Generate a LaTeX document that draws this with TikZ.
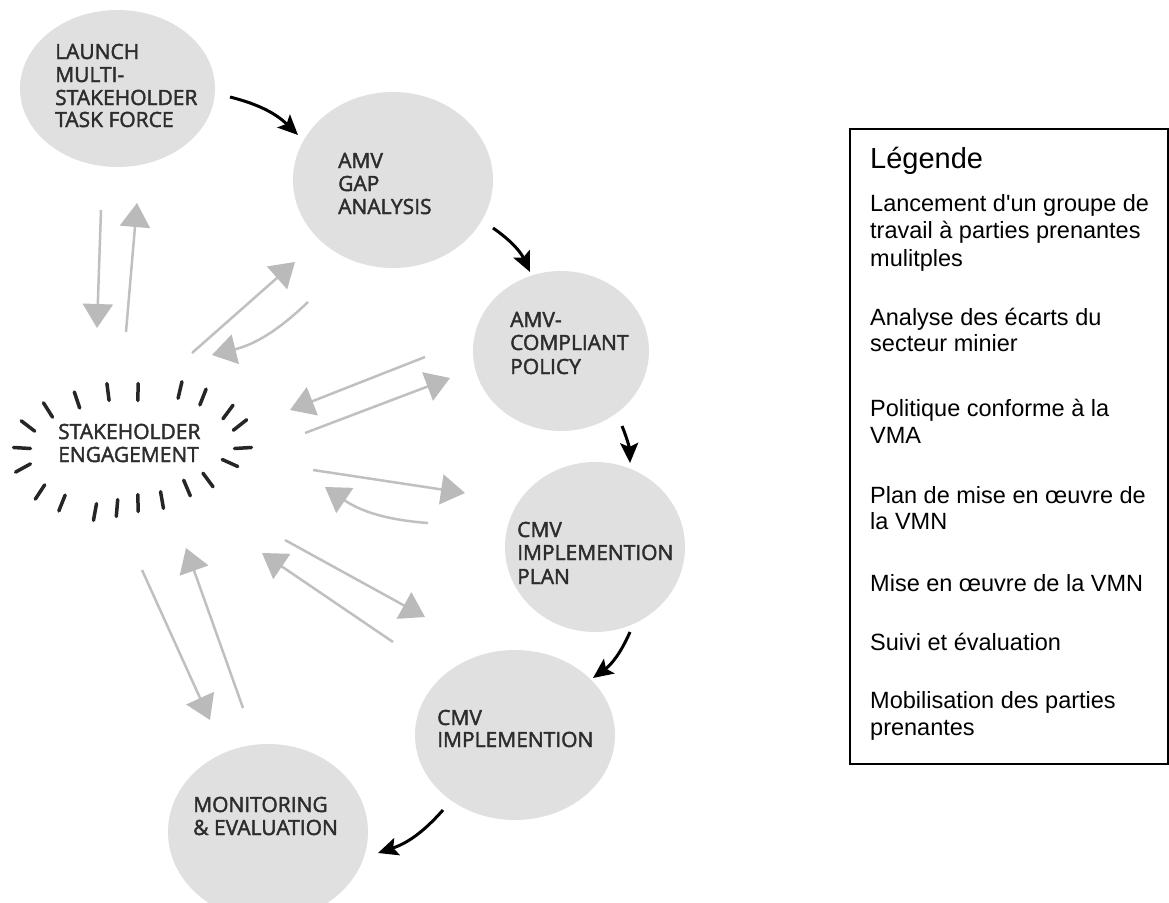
\documentclass[tikz,border=0pt]{standalone}
\usepackage{fontspec}
\setmainfont{Liberation Sans}
\newfontfamily\legfont{Liberation Sans}
\newfontfamily\bubblefont{Open Sans}[FakeBold=2]
\usetikzlibrary{arrows.meta,calc,shapes.geometric}
\definecolor{bubblegray}{RGB}{224,224,224}
\definecolor{greyline}{RGB}{192,192,192}
\definecolor{greyhead}{RGB}{186,186,186}
\definecolor{captext}{RGB}{45,45,45}
\begin{document}
\begin{tikzpicture}[x=1pt,y=-1pt,
  bubble/.style={ellipse, fill=bubblegray, draw=none, inner sep=0pt, outer sep=0pt},
  ctext/.style={font=\bubblefont\fontsize{21}{23}\selectfont, text=captext, inner sep=0pt, anchor=base west},
  ltext/.style={font=\legfont\fontsize{23.5}{27}\selectfont, inner sep=0pt, anchor=base west},
  ltitle/.style={font=\legfont\fontsize{29}{33}\selectfont, inner sep=0pt, anchor=base west},
  garrow/.style={draw=greyline, line width=2.5pt, -{Triangle[length=24pt,width=30pt,color=greyhead]}},
  barrow/.style={draw=black, line width=3pt, -{Stealth[length=20pt,width=18pt,inset=4pt]}},
  tickmark/.style={line width=3.5pt, line cap=round, draw=black!85}]
\useasboundingbox (0,0) rectangle (1169,902);
\fill[white] (0,0) rectangle (1169,902);

% bubbles
\node[bubble, minimum width=195pt, minimum height=157pt] (launch) at (117.5,88.5) {};
\node[bubble, minimum width=200pt, minimum height=176pt] (gap) at (393,180) {};
\node[bubble, minimum width=176pt, minimum height=160pt] (policy) at (561,351) {};
\node[bubble, minimum width=180pt, minimum height=170pt] (plan) at (595,547) {};
\node[bubble, minimum width=200pt, minimum height=170pt] (impl) at (515,735) {};
\node[bubble, minimum width=200pt, minimum height=176pt] (monit) at (268,832) {};

% bubble texts
\node[ctext] (t1a) at (55,59) {LAUNCH};
\node[ctext] (t1b) at (55,82) {MULTI-};
\node[ctext] (t1c) at (55,105) {STAKEHOLDER};
\node[ctext] (t1d) at (55,127) {TASK FORCE};
\node[ctext] (t2a) at (338,168) {AMV};
\node[ctext] (t2b) at (338,191) {GAP};
\node[ctext] (t2c) at (338,214) {ANALYSIS};
\node[ctext] (t3a) at (510,327) {AMV-};
\node[ctext] (t3b) at (510,350) {COMPLIANT};
\node[ctext] (t3c) at (510,374) {POLICY};
\node[ctext] (t4a) at (517,537) {CMV};
\node[ctext] (t4b) at (517,560) {IMPLEMENTION};
\node[ctext] (t4c) at (517,584) {PLAN};
\node[ctext] (t5a) at (437,725) {CMV};
\node[ctext] (t5b) at (437,747) {IMPLEMENTION};
\node[ctext] (t6a) at (193,812) {MONITORING};
\node[ctext] (t6b) at (193,835) {\&~EVALUATION};
\node[ctext] (t7a) at (58,439) {STAKEHOLDER};
\node[ctext] (t7b) at (58,462) {ENGAGEMENT};

% tick ring around stakeholder engagement
\coordinate (sc) at (133,450);
\foreach \tx/\ty in {48/410, 77/400, 108/392, 138/392, 180/390, 203/397, 228/412, 240/425,
  243/448, 230/463, 208/480, 187/488, 162/500, 138/503, 117/508, 95/512, 62/503, 40/492,
  23/468, 22/448, 28/426}{
  \pgfmathsetmacro\nx{(\tx-133)/12.1}
  \pgfmathsetmacro\ny{(\ty-450)/3.6}
  \pgfmathsetmacro\nl{veclen(\nx,\ny)}
  \draw[tickmark] ({\tx-8.5*\nx/\nl},{\ty-8.5*\ny/\nl}) -- ({\tx+8.5*\nx/\nl},{\ty+8.5*\ny/\nl});
}

% grey arrow end points
\coordinate (ga1s) at (101,210);  \coordinate (ga1e) at (97,328);
\coordinate (ga2s) at (126,332);  \coordinate (ga2e) at (137,203);
\coordinate (ga3s) at (192,353);  \coordinate (ga3e) at (295,262);
\coordinate (ga4s) at (308,302);  \coordinate (ga4e) at (212,355);
\coordinate (ga5s) at (425,357);  \coordinate (ga5e) at (290,410);
\coordinate (ga6s) at (305,433);  \coordinate (ga6e) at (450,378);
\coordinate (ga7s) at (313,470);  \coordinate (ga7e) at (465,493);
\coordinate (ga8s) at (428,523);  \coordinate (ga8e) at (325,487);
\coordinate (ga9s) at (285,540);  \coordinate (ga9e) at (425,617);
\coordinate (ga10s) at (393,642); \coordinate (ga10e) at (262,553);
\coordinate (ga11s) at (142,570); \coordinate (ga11e) at (210,720);
\coordinate (ga12s) at (243,708); \coordinate (ga12e) at (186,548);

\draw[garrow] (ga1s) -- (ga1e);
\draw[garrow] (ga2s) -- (ga2e);
\draw[garrow] (ga3s) -- (ga3e);
\draw[garrow] (ga4s) to[bend left=15] (ga4e);
\draw[garrow] (ga5s) -- (ga5e);
\draw[garrow] (ga6s) -- (ga6e);
\draw[garrow] (ga7s) -- (ga7e);
\draw[garrow] (ga8s) to[bend left=15] (ga8e);
\draw[garrow] (ga9s) -- (ga9e);
\draw[garrow] (ga10s) -- (ga10e);
\draw[garrow] (ga11s) -- (ga11e);
\draw[garrow] (ga12s) -- (ga12e);

% black arrows
\coordinate (b1s) at (230,97);  \coordinate (b1e) at (298,135);
\coordinate (b2s) at (493,228); \coordinate (b2e) at (530,272);
\coordinate (b3s) at (622,426); \coordinate (b3e) at (630,463);
\coordinate (b4s) at (630,632); \coordinate (b4e) at (593,678);
\coordinate (b5s) at (443,810); \coordinate (b5e) at (378,853);
\draw[barrow] (b1s) to[bend left=15] (b1e);
\draw[barrow] (b2s) to[bend left=15] (b2e);
\draw[barrow] (b3s) to[bend left=10] (b3e);
\draw[barrow] (b4s) to[bend left=15] (b4e);
\draw[barrow] (b5s) to[bend left=15] (b5e);

% legend
\node[draw, line width=2pt, anchor=north west, minimum width=318pt, minimum height=635pt, inner sep=0pt] (legendbox) at (849,128) {};
\node[ltitle] (lg0) at (870,168) {Légende};
\node[ltext] (lg1) at (870,211.5) {Lancement d'un groupe de};
\node[ltext] (lg2) at (870,238.5) {travail à parties prenantes};
\node[ltext] (lg3) at (870,266) {mulitples};
\node[ltext] (lg4) at (870,325.5) {Analyse des écarts du};
\node[ltext] (lg5) at (870,351.5) {secteur minier};
\node[ltext] (lg6) at (870,416.5) {Politique conforme à la};
\node[ltext] (lg7) at (870,443.5) {VMA};
\node[ltext] (lg8) at (870,503.5) {Plan de mise en œuvre de};
\node[ltext] (lg9) at (870,529) {la VMN};
\node[ltext] (lg10) at (870,591.5) {Mise en œuvre de la VMN};
\node[ltext] (lg11) at (870,650.5) {Suivi et évaluation};
\node[ltext] (lg12) at (870,708.5) {Mobilisation des parties};
\node[ltext] (lg13) at (870,735.5) {prenantes};
\end{tikzpicture}
\end{document}
